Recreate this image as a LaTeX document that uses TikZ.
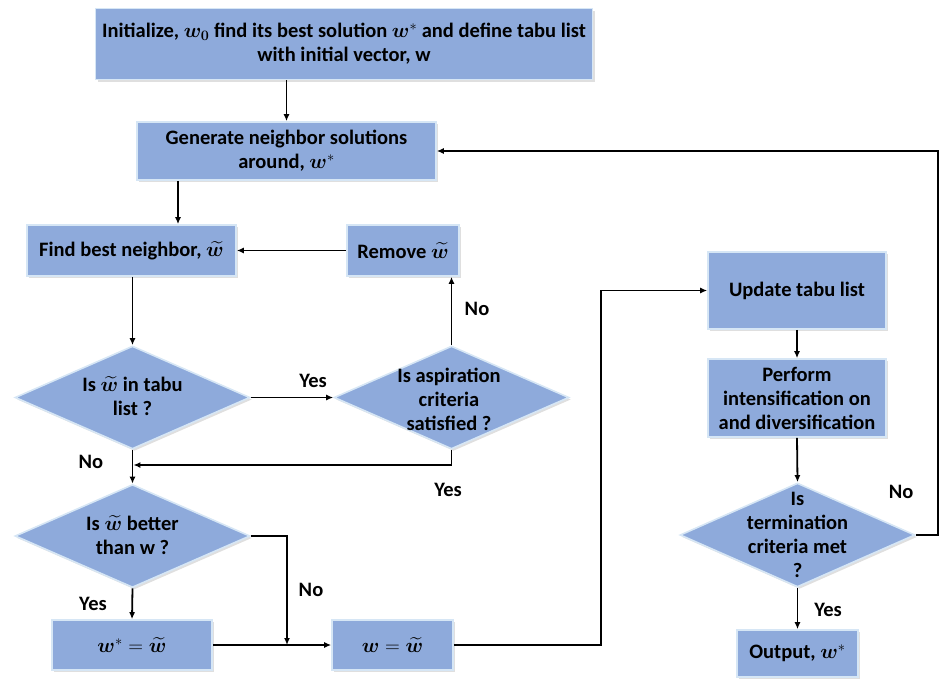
\documentclass[tikz,border=0pt]{standalone}
\usepackage{fix-cm}
\usepackage{amsmath}
\usepackage{bm}
\usepackage{fontspec}
\setmainfont{Carlito}
\usetikzlibrary{shapes.geometric,arrows.meta,shadows,calc}
\definecolor{boxfill}{HTML}{8EAADB}
\definecolor{boxline}{HTML}{D6E6F5}
\newcommand{\tw}{\bm{\widetilde{w}}}
\newcommand{\bw}{\bm{w}}
\begin{document}
\begin{tikzpicture}[x=1pt,y=-1pt,
  every node/.style={font=\fontsize{20.5}{24}\selectfont\bfseries},
  box/.style={rectangle,draw=boxline,line width=1.6pt,fill=boxfill,inner sep=0,align=center,
    drop shadow={shadow xshift=2pt,shadow yshift=-2pt,opacity=0.25}},
  dia/.style={diamond,draw=boxline,line width=1.6pt,fill=boxfill,inner sep=0,
    drop shadow={shadow xshift=2pt,shadow yshift=-2pt,opacity=0.25},
    minimum width=235pt,minimum height=103pt},
  txt/.style={align=center,inner sep=0},
  lbl/.style={inner sep=0},
  arr/.style={-{Latex[length=7pt,width=6pt]},line width=1.8pt}]
\useasboundingbox (0,0) rectangle (941,680);

% boxes
\node[box,minimum width=497pt,minimum height=71pt] (init) at (344,44)
  {Initialize, $\bm{w_0}$ find its best solution $\bw^{*}$ and define tabu list\\with initial vector, w};
\node[box,minimum width=299pt,minimum height=58pt] (gen) at (286.5,151)
  {Generate neighbor solutions\\around, $\bw^{*}$};
\node[box,minimum width=209pt,minimum height=51pt] (find) at (131.5,250.5) {Find best neighbor, $\tw$};
\node[box,minimum width=112pt,minimum height=51pt] (remove) at (403,250.5) {Remove $\tw$};
\node[box,minimum width=160pt,minimum height=50pt] (wstar) at (132,645) {$\bw^{*}=\tw$};
\node[box,minimum width=121pt,minimum height=50pt] (wnew) at (392.5,645) {$\bw=\tw$};
\node[box,minimum width=178pt,minimum height=77pt] (upd) at (797,290.5) {Update tabu list};
\node[box,minimum width=178pt,minimum height=78pt] (perf) at (797,398)
  {Perform\\intensification on\\and diversification};
\node[box,minimum width=121pt,minimum height=47pt] (out) at (797.5,653.5) {Output, $\bw^{*}$};

% diamonds
\node[dia] (d1) at (132.5,397.5) {};
\node[txt] (d1t) at (132.5,396) {Is $\tw$ in tabu\\list ?};
\node[dia] (d2) at (451.5,397.5) {};
\node[txt] (d2t) at (449,399) {Is aspiration\\criteria\\satisfied ?};
\node[dia] (d3) at (132.5,536) {};
\node[txt] (d3t) at (132.5,535) {Is $\tw$ better\\than w ?};
\node[dia,minimum height=104pt] (d4) at (797.5,535) {};
\node[txt] (d4t) at (797.5,535) {Is\\termination\\criteria met\\?};

% junctions
\coordinate (j1) at (132.5,465);
\coordinate (j2) at (287,645);
\coordinate (gf) at (178,180);

% connectors
\draw[arr] (gen.north |- init.south) -- (gen.north);
\draw[arr] (gf |- gen.south) -- (gf |- find.north);
\draw[arr] (d1.north |- find.south) -- (d1.north);
\draw[arr] (d1.east) -- (d2.west);
\draw[arr] (d2.north) -- (d2.north |- remove.south);
\draw[arr] (remove.west) -- (find.east);
\draw[arr] (d2.south) |- ([xshift=0.9pt]j1);
\draw[arr] (d1.south) -- (d3.north);
\draw[arr] (d3.east) -| (j2);
\draw[arr] (d3.south) -- (wstar.north);
\draw[arr] (wstar.east) -- (wnew.west);
\draw[arr] (wnew.east) -- ++(147,0) |- (upd.west);
\draw[arr] (upd.south) -- (perf.north);
\draw[arr] (perf.south) -- (d4.north);
\draw[arr] (d4.east) -- ++(22,0) |- (gen.east);
\draw[arr] (d4.south) -- (out.north);

% labels
\node[lbl] (l1) at (313,381) {Yes};
\node[lbl] (l2) at (477,309) {No};
\node[lbl] (l3) at (448,490) {Yes};
\node[lbl] (l4) at (91,462) {No};
\node[lbl] (l5) at (311,590) {No};
\node[lbl] (l6) at (93,604) {Yes};
\node[lbl] (l7) at (901,492) {No};
\node[lbl] (l8) at (828,610) {Yes};
\end{tikzpicture}
\end{document}
